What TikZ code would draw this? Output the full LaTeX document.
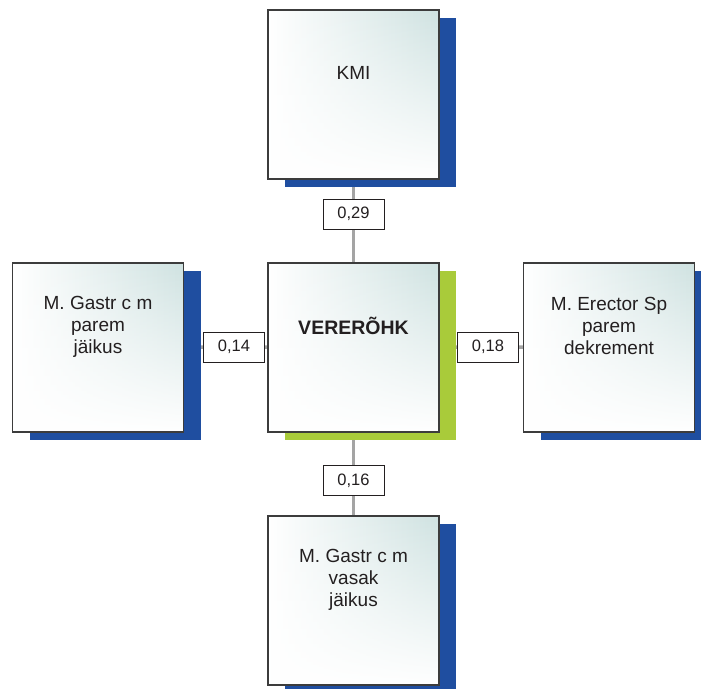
\documentclass[tikz,border=0pt]{standalone}
\usepackage{fontspec}
\setmainfont{Liberation Sans}
\usepackage{xcolor}
\usetikzlibrary{shadows,fadings,backgrounds}
\definecolor{vblack}{HTML}{231F20}
\definecolor{vframe}{HTML}{3C3C3C}
\definecolor{vgray}{HTML}{A4A4A4}
\definecolor{vblue}{HTML}{1F4EA0}
\definecolor{vgreen}{HTML}{A9CB3A}
\definecolor{vteal}{HTML}{CFE2E1}

\tikzset{
	panel/.style={draw=vframe, line width=1.2pt, inner sep=0pt, minimum width=171pt, minimum height=169pt, left color=white, right color=vteal, path picture={\fill[white, path fading=north] (path picture bounding box.south west) rectangle (path picture bounding box.north east);}},
	blueshadow/.style={drop shadow={shadow xshift=17pt, shadow yshift=-8pt, fill=vblue, opacity=1}},
	greenshadow/.style={drop shadow={shadow xshift=17pt, shadow yshift=-8pt, fill=vgreen, opacity=1}},
	caption/.style={align=center, text=vblack, font=\fontsize{19}{22}\selectfont},
	weight/.style={draw=vblack, fill=white, line width=0.9pt, minimum width=61pt, minimum height=30pt, inner sep=0pt, text=vblack, font=\fontsize{16.5}{18}\selectfont},
	link/.style={draw=vgray, line width=3.5pt}
}

\begin{document}
\begin{tikzpicture}[x=1pt, y=-1pt]
		\useasboundingbox (0,0) rectangle (701,688);
		% boxes
		\node[panel, greenshadow] (center) at (353.5,347.5) {};
		\node[panel, blueshadow] (kmi) at (353.5,94.5) {};
		\node[panel, blueshadow] (leftcalf) at (98,347.5) {};
		\node[panel, blueshadow] (erector) at (609,347.5) {};
		\node[panel, blueshadow] (rightcalf) at (353.5,600.5) {};
		% texts
		\node[caption, font=\fontsize{19.5}{22}\bfseries] (centertext) at ([yshift=-64pt]center.north) {VERERÕHK};
		\node[caption] (kmitext) at ([yshift=-64pt]kmi.north) {KMI};
		\node[caption] (lefttext) at ([yshift=-64pt]leftcalf.north) {M. Gastr c m\\parem\\jäikus};
		\node[caption] (erectortext) at ([yshift=-64pt]erector.north) {M. Erector Sp\\parem\\dekrement};
		\node[caption] (righttext) at ([yshift=-64pt]rightcalf.north) {M. Gastr c m\\vasak\\jäikus};
		% weights
		\node[weight] (w29) at (353.5,214) {0,29};
		\node[weight] (w14) at (234,347) {0,14};
		\node[weight] (w18) at (488,347) {0,18};
		\node[weight] (w16) at (353.5,480.5) {0,16};
		% links
		\begin{scope}[on background layer]
			\draw[link] (kmi) -- (w29) -- (center);
			\draw[link] (leftcalf) -- (w14) -- (center);
			\draw[link] (erector) -- (w18) -- (center);
			\draw[link] (rightcalf) -- (w16) -- (center);
		\end{scope}
	\end{tikzpicture}
\end{document}
